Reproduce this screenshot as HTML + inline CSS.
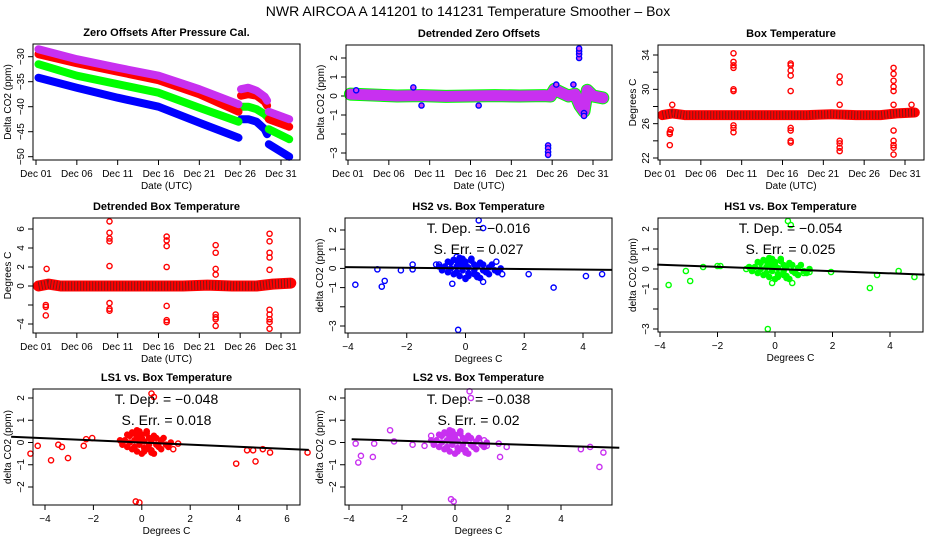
<!DOCTYPE html>
<html><head><meta charset="utf-8"><style>
html,body{margin:0;padding:0;background:#fff}
svg{display:block;font-family:"Liberation Sans",Arial,sans-serif}
</style></head><body>
<svg id="root" width="936" height="540" viewBox="0 0 936 540">
<rect width="936" height="540" fill="#fff"/>
<text x="468" y="16" text-anchor="middle" font-size="14">NWR   AIRCOA A   141201 to 141231   Temperature Smoother – Box</text>
</svg>
<script>
// ---------- data ----------
const dayLabels = ["Dec 01","Dec 06","Dec 11","Dec 16","Dec 21","Dec 26","Dec 31"];
const dayTicks = [0,5,10,15,20,25,30];
const zoDays = [0.3,5,10,15,20,24.8,null,25.1,26,27,28,28.3,null,28.5,31];
const zoBlue = [-34.2,-36.2,-38.2,-40,-43.2,-46.2,null,-42.5,-42.5,-43,-44.5,-45.5,null,-47.5,-50];
const zoGreen = [-31.5,-33.8,-35.5,-37.2,-40.2,-43,null,-40,-40,-40.5,-41.5,-42,null,-44.5,-46.5];
const zoRed = [-29.5,-31.3,-33,-34.7,-37.5,-41,null,-37.8,-37.5,-37.8,-39,-39.8,null,-42.5,-44];
const zoMag = [-28.5,-30.5,-32.2,-33.8,-36.5,-39.5,null,-36.5,-36.2,-36.8,-38,-38.8,null,-41,-42.5];
const dzDays = [0.3,3,6,9,12,15,18,21,24,24.8,25.3,26,27,27.8,28.4,28.9,29.3,30,31.2];
const dzMean = [0.1,0.05,0,0.02,-0.02,0,0.02,0,0.02,0,0.35,0.2,0,0.1,-0.5,-0.8,0.3,0,-0.1];
const dzOutDay = [24.5,24.5,24.5,24.5,28.3,28.3,28.3,28.3,28.9,28.9,8,9,16,27.6,1,25.5];
const dzOutVal = [-2.6,-2.75,-2.95,-3.1,2.0,2.2,2.35,2.5,-0.9,-1.05,0.45,-0.5,-0.5,0.6,0.3,0.6];
const btDays = [0.3,1.5,3,6,9,12,15,18,21,24,27,29,31.2];
const btMean = [27,27.2,27,27,27,27,27,27,27.1,27,27,27.2,27.3];
const btOutDay = [1.2,1.2,1.2,1.3,1.5,9,9,9,9,9,9,9,9,9,16,16,16,16,16,16,16,16,16,22,22,22,22,22,22,22,28.6,28.6,28.6,28.6,28.6,28.6,28.6,28.6,28.6,28.6,28.6,30.8];
const btOutVal = [23.5,24.8,25,25.3,28.2,34.2,33.2,32.8,32.5,30,29.8,25.5,25,25.8,33,32.8,32.2,31.6,29.8,25.5,25.2,24,23.8,31.5,30.8,24,23.7,23.2,22.8,28.2,32.5,31.8,31,30.3,29.8,25.2,24,23.5,23.2,22.4,28.2,28.2];
const dbDays = btDays;
const dbMean = [0,0.2,0,0,0,0,0,0,0.1,0,0,0.2,0.3];
const dbOutDay = [1.2,1.2,1.2,1.3,9,9,9,9,9,9,9,9,16,16,16,16,16,16,16,22,22,22,22,22,22,22,22,28.6,28.6,28.6,28.6,28.6,28.6,28.6,28.6,28.6,28.6];
const dbOutVal = [-2,-2.2,-3.1,1.8,6.8,5.6,5,4.7,2.1,-1.8,-2.4,-2.6,5.2,4.8,4.2,2,-2.1,-3.6,-3.8,4.3,3.5,1.8,1.2,-3.0,-3.3,-3.5,-4.2,5.5,4.7,3.5,3,1.7,-2.5,-3,-3.5,-3.8,-4.5];
const cloudX = [-0.7,-0.6,-0.5,-0.4,-0.3,-0.2,-0.1,0,0.1,0.2,0.3,0.4,0.5,0.6,0.7,0.8,1.0,1.2,-0.6,-0.4,-0.2,0,0.2,0.4,0.6,0.8,-0.5,-0.3,-0.1,0.1,0.3,0.5,-0.3,0,0.3,-0.1,0.1,0.2,-0.2,0.4,-0.8,0.9,1.1,-0.9];
const cloudY = [0.1,-0.2,0.3,-0.3,0.4,-0.4,0.5,0.2,-0.4,0.4,-0.3,0.1,-0.5,0.2,-0.2,0.05,-0.1,0,0.35,0.45,0.55,-0.5,0.5,-0.45,-0.1,-0.3,0,0.1,-0.1,0.05,0.2,0.3,-0.2,0.35,-0.1,0.15,-0.25,0.5,0.25,-0.35,-0.1,0.2,-0.2,0.1];
const hs2X = [-3.75,-3.0,-2.85,-2.75,-2.2,-1.8,-1.8,-1,-0.9,-0.45,-0.3,0.45,0.6,-0.25,1.05,1.25,2.15,3.0,4.1,4.65,0.6,0.0];
const hs2Y = [-0.85,-0.05,-0.95,-0.65,-0.1,0.2,-0.05,0.2,0.2,-0.8,0.6,2.5,2.1,-3.2,0.35,-0.3,-0.3,-1.0,-0.4,-0.3,-0.7,-0.55];
const hs1X = [-3.7,-3.1,-2.95,-2.5,-2,-1.9,-1,-0.1,0.45,0.55,-0.25,1,1.2,1.95,3.3,3.55,4.3,4.85,0.6];
const hs1Y = [-0.8,-0.1,-0.6,0.1,0.15,0.15,0,-0.7,2.4,2.2,-3.0,-0.2,-0.15,-0.15,-0.95,-0.3,-0.1,-0.4,-0.7];
const ls1X = [-4.6,-4.3,-3.75,-3.45,-3.3,-3.05,-2.4,-2.3,-2.05,0.4,0.5,-0.25,-0.1,0.8,1.3,1.5,3.9,4.35,4.6,4.7,5.0,5.3,6.85];
const ls1Y = [-0.5,-0.15,-0.8,-0.1,-0.2,-0.7,-0.15,0.15,0.2,2.2,2.05,-2.65,-2.7,0.1,-0.3,-0.05,-0.95,-0.35,-0.35,-0.85,-0.3,-0.45,-0.45];
const ls2X = [-3.75,-3.65,-3.55,-3.1,-3.05,-2.45,-2.3,-1.6,-1.15,-0.9,0.55,0.6,-0.15,-0.05,1.1,1.2,1.65,1.7,1.95,4.75,5.1,5.45,5.6];
const ls2Y = [-0.05,-0.9,-0.6,-0.65,-0.05,0.55,0.05,-0.1,-0.15,0.3,2.3,2.0,-2.55,-2.65,0.1,-0.15,-0.05,-0.65,-0.2,-0.3,-0.2,-1.1,-0.45];
const slopes = [-0.016,-0.054,-0.048,-0.038];
const serrs = ["0.027","0.025","0.018","0.02"];

const NS = "http://www.w3.org/2000/svg";
const root = document.getElementById("root");
function mk(tag, attrs, parent, txt) {
  const e = document.createElementNS(NS, tag);
  for (const k in attrs) e.setAttribute(k, attrs[k]);
  if (txt !== undefined) e.textContent = txt;
  (parent || root).appendChild(e);
  return e;
}
function lin(d0, p0, d1, p1) { return v => p0 + (v - d0) * (p1 - p0) / (d1 - d0); }

function panel(name, box, title, xs, ys, xt, xl, yt, yl, xlab, ylab) {
  const g = mk("g", {});
  
  
  const t = mk("text", {x: (box.x0 + box.x1) / 2, y: box.y0 - 8, "text-anchor": "middle", "font-size": 11, "font-weight": "bold"}, g, title);
  
  
  const xa = mk("g", {}, g);
  
  
  mk("line", {x1: xs(xt[0]), x2: xs(xt[xt.length - 1]), y1: box.y1, y2: box.y1, stroke: "#000"}, xa);
  xt.forEach((v, i) => {
    mk("line", {x1: xs(v), x2: xs(v), y1: box.y1, y2: box.y1 + 5, stroke: "#000"}, xa);
    if (xl[i] !== "") {
      const tl = mk("text", {x: xs(v), y: box.y1 + 17, "text-anchor": "middle", "font-size": 10}, xa, xl[i]);
      
      
    }
  });
  const ya = mk("g", {}, g);
  
  
  mk("line", {x1: box.x0, x2: box.x0, y1: ys(yt[0]), y2: ys(yt[yt.length - 1]), stroke: "#000"}, ya);
  yt.forEach((v, i) => {
    mk("line", {x1: box.x0 - 5, x2: box.x0, y1: ys(v), y2: ys(v), stroke: "#000"}, ya);
    if (yl[i] !== "") {
      const x = box.x0 - 9, y = ys(v);
      const tl = mk("text", {x: x, y: y, "text-anchor": "middle", "font-size": 10, transform: `rotate(-90 ${x} ${y})`}, ya, yl[i]);
      
      
    }
  });
  const xl2 = mk("text", {x: (box.x0 + box.x1) / 2, y: box.y1 + 29, "text-anchor": "middle", "font-size": 10}, g, xlab);
  
  
  const lx = box.x0 - 22, ly = (box.y0 + box.y1) / 2;
  const yl2 = mk("text", {x: lx, y: ly, "text-anchor": "middle", "font-size": 10, transform: `rotate(-90 ${lx} ${ly})`}, g, ylab);
  
  
  const plot = mk("g", {}, g);
  
  
  mk("rect", {x: box.x0, y: box.y0, width: box.x1 - box.x0, height: box.y1 - box.y0, fill: "none", stroke: "#000"}, g);
  return plot;
}
function band(parent, xs, ys, xsData, ysData, color, w, name, dash) {
  let segs = [], cur = [];
  xsData.forEach((d, i) => {
    if (d === null || ysData[i] === null) { if (cur.length) segs.push(cur); cur = []; }
    else cur.push(xs(d).toFixed(1) + "," + ys(ysData[i]).toFixed(1));
  });
  if (cur.length) segs.push(cur);
  segs.forEach(s => {
    const attrs = {points: s.join(" "), fill: "none", stroke: color, "stroke-width": w, "stroke-linecap": dash ? "butt" : "round", "stroke-linejoin": "round"};
    if (dash) attrs["stroke-dasharray"] = dash;
    const p = mk("polyline", attrs, parent);
    
    
  });
}
function pts(parent, xs, ys, xd, yd, color, name, inner) {
  xd.forEach((d, i) => {
    const c = mk("circle", {cx: xs(d), cy: ys(yd[i]), r: 2.6, fill: inner || "none", stroke: color, "stroke-width": 1.4}, parent);
    
    
  });
}
function ticksTo(a, b, s) { const r = []; for (let v = a; v <= b + 1e-9; v += s) r.push(+v.toFixed(6)); return r; }

{
  const box = {x0: 33, x1: 300, y0: 44, y1: 160};
  const xs = lin(0, 36, 30, 281), ys = lin(-30, 56.7, -50, 156.7);
  const p = panel("zero-offsets-panel", box, "Zero Offsets After Pressure Cal.", xs, ys, dayTicks, dayLabels,
    [-50,-45,-40,-35,-30], ["−50","−45","−40","−35","−30"], "Date (UTC)", "Delta CO2 (ppm)");
  band(p, xs, ys, zoDays, zoBlue, "#0000ff", 8, "series-hs2");
  band(p, xs, ys, zoDays, zoGreen, "#00ff00", 8, "series-hs1");
  band(p, xs, ys, zoDays, zoRed, "#ff0000", 8, "series-ls1");
  band(p, xs, ys, zoDays, zoMag, "#c830f0", 8, "series-ls2");
}
{
  const box = {x0: 346, x1: 612, y0: 45, y1: 160};
  const xs = lin(0, 348, 30, 593), ys = lin(2, 58, -3, 153);
  const p = panel("detrended-zero-panel", box, "Detrended Zero Offsets", xs, ys, dayTicks, dayLabels,
    [-3,-2,-1,0,1,2], ["−3","","−1","0","1","2"], "Date (UTC)", "Delta CO2 (ppm)");
  band(p, xs, ys, dzDays, dzMean, "#00ff00", 13, "series-hs1-band");
  band(p, xs, ys, dzDays, dzMean, "#c830f0", 11, "series-ls2-band");
  pts(p, xs, ys, dzOutDay, dzOutVal, "#0000ff", "outlier-point", "#d040f0");
}
{
  const box = {x0: 658, x1: 924, y0: 45, y1: 160};
  const xs = lin(0, 660, 30, 905), ys = lin(34, 55, 22, 158);
  const p = panel("box-temperature-panel", box, "Box Temperature", xs, ys, dayTicks, dayLabels,
    ticksTo(22, 34, 2), ["22","","26","","30","","34"], "Date (UTC)", "Degrees C");
  band(p, xs, ys, btDays, btMean, "#ff0000", 10, "box-temp-band");
  band(p, xs, ys, btDays, btMean, "#801818", 8, "box-temp-band-inner", "1 2");
  pts(p, xs, ys, btOutDay, btOutVal, "#ff0000", "box-temp-point");
}
{
  const box = {x0: 33, x1: 300, y0: 218, y1: 333};
  const xs = lin(0, 36, 30, 281), ys = lin(6, 229, -4, 324);
  const p = panel("detrended-box-temp-panel", box, "Detrended Box Temperature", xs, ys, dayTicks, dayLabels,
    [-4,-2,0,2,4,6], ["−4","","0","2","4","6"], "Date (UTC)", "Degrees C");
  band(p, xs, ys, dbDays, dbMean, "#ff0000", 11, "detrended-temp-band");
  band(p, xs, ys, dbDays, dbMean, "#801818", 9, "detrended-temp-band-inner", "1 2");
  pts(p, xs, ys, dbOutDay, dbOutVal, "#ff0000", "detrended-temp-point");
}
function scatter(name, box, title, xs, ys, xt, yt, yl, ox, oy, color, slope, serr, xmin, xmax) {
  const p = panel(name, box, title, xs, ys, xt, xt.map(v => v < 0 ? "−" + (-v) : "" + v),
    yt, yl, "Degrees C", "delta CO2 (ppm)");
  pts(p, xs, ys, cloudX, cloudY, color, "cloud-point", color);
  pts(p, xs, ys, ox, oy, color, "scatter-point");
  const rl = mk("line", {x1: xs(xmin), x2: xs(xmax), y1: ys(slope * xmin), y2: ys(slope * xmax), stroke: "#000", "stroke-width": 2}, p);
  
  
  const cx = (box.x0 + box.x1) / 2;
  const a = mk("text", {x: cx, y: box.y0 + 15, "text-anchor": "middle", "font-size": 14}, p, "T. Dep. =  " + (slope < 0 ? "−" + (-slope) : slope));
  
  
  const b = mk("text", {x: cx, y: box.y0 + 36, "text-anchor": "middle", "font-size": 14}, p, "S. Err. =  " + serr);
  
  
}
const yT = [-3,-2,-1,0,1,2], yL = ["−3","","−1","0","1","2"];
scatter("hs2-scatter-panel", {x0: 345, x1: 612, y0: 218, y1: 333}, "HS2 vs. Box Temperature",
  lin(-4, 348, 4, 583), lin(2, 230, -3, 326), [-4,-2,0,2,4], yT, yL, hs2X, hs2Y, "#0000ff", slopes[0], serrs[0], -4.1, 5);
scatter("hs1-scatter-panel", {x0: 658, x1: 923, y0: 218, y1: 332}, "HS1 vs. Box Temperature",
  lin(-4, 660, 4, 890), lin(2, 229, -3, 329), [-4,-2,0,2,4], yT, yL, hs1X, hs1Y, "#00ff00", slopes[1], serrs[1], -4.1, 5.2);
scatter("ls1-scatter-panel", {x0: 33, x1: 300, y0: 389, y1: 505}, "LS1 vs. Box Temperature",
  lin(-4, 45, 6, 287), lin(2, 398, -2, 487), [-4,-2,0,2,4,6], [-2,-1,0,1,2], ["−2","−1","0","1","2"], ls1X, ls1Y, "#ff0000", slopes[2], serrs[2], -5.4, 6.9);
scatter("ls2-scatter-panel", {x0: 345, x1: 612, y0: 389, y1: 505}, "LS2 vs. Box Temperature",
  lin(-4, 349, 4, 561), lin(2, 398, -2, 487), [-4,-2,0,2,4], [-2,-1,0,1,2], ["−2","−1","0","1","2"], ls2X, ls2Y, "#c830f0", slopes[3], serrs[3], -3.9, 6.2);
</script>
</body></html>
